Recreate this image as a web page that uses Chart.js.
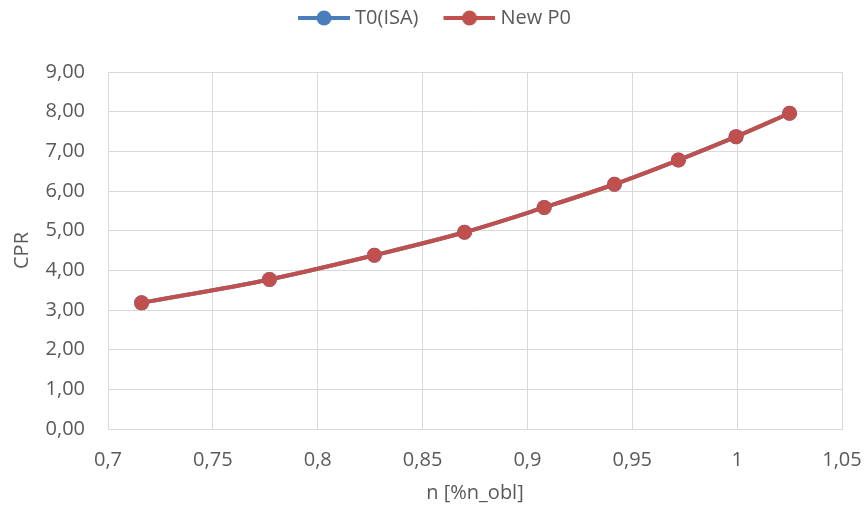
<!DOCTYPE html>
<html>
<head>
<meta charset="utf-8">
<script src="https://cdn.jsdelivr.net/npm/chart.js@4.4.1/dist/chart.umd.min.js"></script>
<style>
  html, body { margin: 0; padding: 0; background: #ffffff; }
</style>
</head>
<body>
<canvas id="chart" width="866" height="513"></canvas>
<script>
// Relative speed n [%n_obl] and compressor pressure ratio (CPR)
const speeds = [0.716, 0.777, 0.827, 0.870, 0.908, 0.9415, 0.972, 0.9995, 1.025];
const cprT0 = [3.18, 3.77, 4.38, 4.96, 5.585, 6.17, 6.78, 7.37, 7.96];
const cprNewP0 = [3.18, 3.77, 4.38, 4.96, 5.585, 6.17, 6.78, 7.37, 7.96];
const xTickLabels = ['0,7', '0,75', '0,8', '0,85', '0,9', '0,95', '1', '1,05'];
const yTickLabels = ['0,00', '1,00', '2,00', '3,00', '4,00', '5,00', '6,00', '7,00', '8,00', '9,00'];

const BLUE = '#4a7ebb';
const RED = '#c0504d';
const TEXT = '#595959';
const GRID = '#d9d9d9';
const FONT = "'Open Sans', 'Noto Sans', sans-serif";
const FONT_SIZE = 20;
const LINE_WIDTH = 4;

// Legend symbol: a line with a round marker, sitting at the right of its box
const SYMBOL_BOX = 64;
function legendSymbol(color) {
  const c = document.createElement('canvas');
  c.width = 74; c.height = 16;
  const g = c.getContext('2d');
  g.strokeStyle = color;
  g.lineWidth = LINE_WIDTH;
  g.beginPath(); g.moveTo(22, 8); g.lineTo(74, 8); g.stroke();
  g.fillStyle = color;
  g.beginPath(); g.arc(48, 8, 7.5, 0, Math.PI * 2); g.fill();
  return c;
}

// Extra room between the legend and the plot area
const legendGap = {
  id: 'legendGap',
  beforeInit(chart) {
    const fit = chart.legend.fit;
    chart.legend.fit = function () {
      fit.call(this);
      this.height += 34;
    };
  }
};

const toPoints = ys => speeds.map((x, i) => ({ x: x, y: ys[i] }));

new Chart(document.getElementById('chart'), {
  type: 'line',
  plugins: [legendGap],
  data: {
    datasets: [
      {
        label: 'T0(ISA)',
        data: toPoints(cprT0),
        borderColor: BLUE,
        backgroundColor: BLUE,
        borderWidth: LINE_WIDTH,
        pointRadius: 7.5,
        pointHoverRadius: 7.5,
        pointBorderWidth: 0,
        cubicInterpolationMode: 'monotone',
        order: 1
      },
      {
        label: 'New P0',
        data: toPoints(cprNewP0),
        borderColor: RED,
        backgroundColor: RED,
        borderWidth: LINE_WIDTH,
        pointRadius: 7.5,
        pointHoverRadius: 7.5,
        pointBorderWidth: 0,
        cubicInterpolationMode: 'monotone',
        order: 0
      }
    ]
  },
  options: {
    responsive: false,
    animation: false,
    maintainAspectRatio: false,
    layout: { padding: { left: 10, right: 24, top: 0, bottom: 8 } },
    plugins: {
      tooltip: { enabled: false },
      legend: {
        position: 'top',
        labels: {
          color: TEXT,
          font: { family: FONT, size: FONT_SIZE },
          usePointStyle: true,
          pointStyleWidth: SYMBOL_BOX,
          boxHeight: 16,
          padding: 8,
          generateLabels: chart => chart.data.datasets.map((ds, i) => ({
            text: ds.label,
            fontColor: TEXT,
            pointStyle: legendSymbol(ds.borderColor),
            datasetIndex: i,
            hidden: false,
            lineWidth: 0,
            strokeStyle: 'transparent',
            fillStyle: 'transparent'
          }))
        }
      }
    },
    scales: {
      x: {
        type: 'linear',
        min: 0.7,
        max: 1.05,
        afterBuildTicks: axis => {
          axis.ticks = xTickLabels.map((t, i) => ({ value: 0.7 + i * 0.05 }));
        },
        afterFit: axis => {
          axis.height = 76;
          axis.paddingLeft = 0;
          axis.paddingRight = 0;
        },
        ticks: {
          color: TEXT,
          font: { family: FONT, size: FONT_SIZE },
          padding: 19,
          maxRotation: 0,
          autoSkip: false,
          callback: (v, i) => xTickLabels[i]
        },
        grid: { color: GRID, lineWidth: 1, drawTicks: false },
        border: { color: GRID, width: 1 },
        title: {
          display: true,
          text: 'n [%n_obl]',
          color: TEXT,
          font: { family: FONT, size: FONT_SIZE },
          padding: 0
        }
      },
      y: {
        min: 0,
        max: 9,
        afterFit: axis => { axis.width = 98; },
        ticks: {
          stepSize: 1,
          color: TEXT,
          font: { family: FONT, size: FONT_SIZE },
          padding: 23,
          callback: (v, i) => yTickLabels[i]
        },
        grid: { color: GRID, lineWidth: 1, drawTicks: false },
        border: { color: GRID, width: 1 },
        title: {
          display: true,
          text: 'CPR',
          color: TEXT,
          font: { family: FONT, size: FONT_SIZE },
          padding: 0
        }
      }
    }
  }
});
</script>
</body>
</html>
